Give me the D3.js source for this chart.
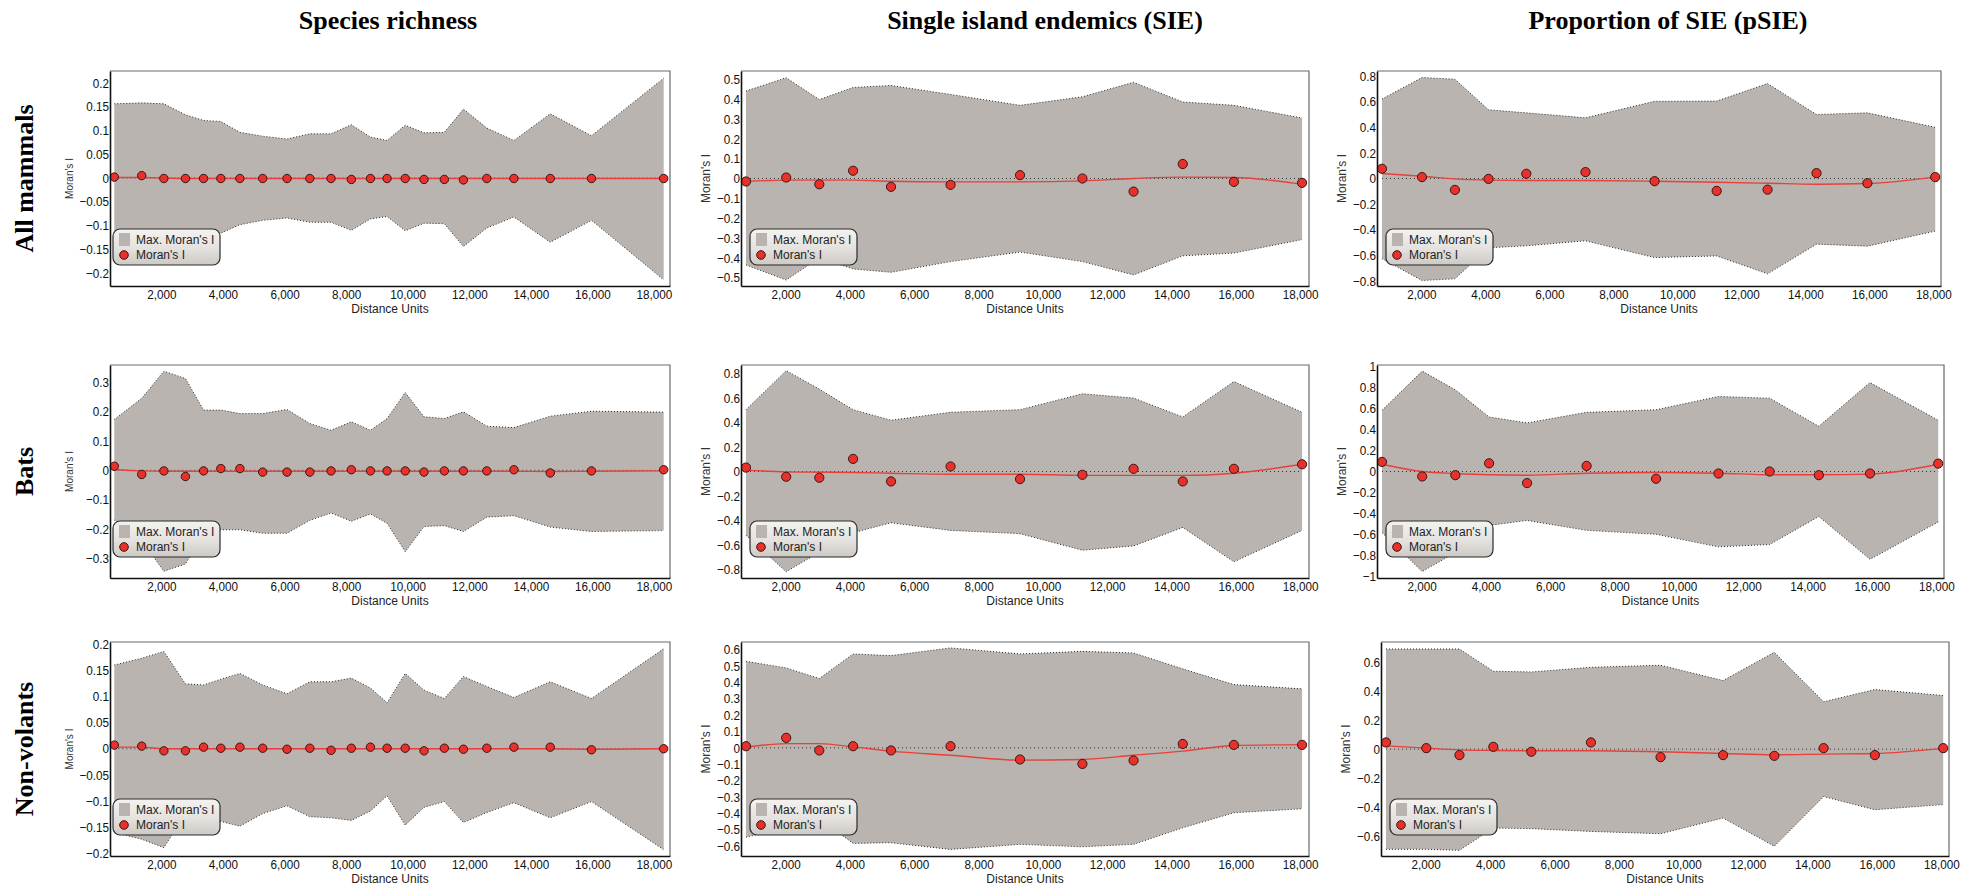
<!DOCTYPE html>
<html>
<head>
<meta charset="utf-8">
<script src="https://cdn.jsdelivr.net/npm/d3@7"></script>
<style>
  body { margin: 0; background: #fff; }
  text { font-family: "Liberation Sans", Arial, sans-serif; }
</style>
</head>
<body>
<svg id="fig" width="1977" height="890"></svg>
<script>
// ---- Distance classes (Distance Units) ----
const distRich = [470, 1360, 2080, 2780, 3370, 3930, 4550, 5290, 6080, 6820, 7510, 8170, 8790, 9330, 9920, 10530, 11190, 11810, 12570, 13450, 14630, 15970, 18315];
const distSIE  = [770, 2020, 3050, 4100, 5280, 7130, 9290, 11230, 12820, 14350, 15940, 18060];

// ---- Tick labels ----
const xTicks = [2000, 4000, 6000, 8000, 10000, 12000, 14000, 16000, 18000];
const yTicksRichAll = [-0.2, -0.15, -0.1, -0.05, 0, 0.05, 0.1, 0.15, 0.2];
const yTicksRichBats = [-0.3, -0.2, -0.1, 0, 0.1, 0.2, 0.3];
const yTicksSIEAll = [-0.5, -0.4, -0.3, -0.2, -0.1, 0, 0.1, 0.2, 0.3, 0.4, 0.5];
const yTicksSIENon = [-0.6, -0.5, -0.4, -0.3, -0.2, -0.1, 0, 0.1, 0.2, 0.3, 0.4, 0.5, 0.6];
const yTicksPoint8 = [-0.8, -0.6, -0.4, -0.2, 0, 0.2, 0.4, 0.6, 0.8];
const yTicksUnit = [-1, -0.8, -0.6, -0.4, -0.2, 0, 0.2, 0.4, 0.6, 0.8, 1];
const yTicksPoint6 = [-0.6, -0.4, -0.2, 0, 0.2, 0.4, 0.6];

// ---- All mammals: species richness ----
const richAllI     = [0.002, 0.005, -0.001, -0.001, -0.001, -0.001, -0.001, -0.001, -0.001, -0.001, -0.001, -0.003, -0.001, -0.001, -0.001, -0.003, -0.003, -0.004, -0.001, -0.001, -0.001, -0.001, -0.001];
const richAllTrend = [0.001, 0.001, 0, -0.001, -0.001, -0.001, -0.001, -0.001, -0.001, -0.001, -0.001, -0.001, -0.001, -0.001, -0.001, -0.001, -0.001, -0.001, -0.001, -0.001, -0.001, -0.001, -0.001];
const richAllMax   = [0.156, 0.158, 0.156, 0.133, 0.121, 0.119, 0.096, 0.088, 0.082, 0.093, 0.093, 0.112, 0.086, 0.079, 0.111, 0.095, 0.096, 0.145, 0.105, 0.079, 0.135, 0.089, 0.21];
const richAllMin   = [-0.156, -0.158, -0.156, -0.133, -0.121, -0.116, -0.098, -0.089, -0.084, -0.093, -0.093, -0.11, -0.086, -0.081, -0.111, -0.095, -0.096, -0.144, -0.105, -0.082, -0.135, -0.089, -0.214];

// ---- All mammals: SIE ----
const sieAllI     = [-0.015, 0.005, -0.029, 0.039, -0.042, -0.032, 0.017, 0.0, -0.066, 0.073, -0.017, -0.022];
const sieAllTrend = [-0.015, -0.008, -0.008, -0.008, -0.014, -0.017, -0.017, -0.012, 0.0, 0.007, 0.005, -0.029];
const sieAllMax   = [0.441, 0.508, 0.398, 0.459, 0.469, 0.424, 0.369, 0.412, 0.485, 0.386, 0.369, 0.305];
const sieAllMin   = [-0.436, -0.512, -0.40, -0.456, -0.473, -0.419, -0.371, -0.419, -0.486, -0.39, -0.376, -0.308];

// ---- All mammals: pSIE ----
const psieAllI     = [0.076, 0.011, -0.089, -0.003, 0.037, 0.05, -0.021, -0.097, -0.087, 0.042, -0.037, 0.011];
const psieAllTrend = [0.039, 0.018, -0.003, -0.013, -0.016, -0.016, -0.021, -0.029, -0.037, -0.045, -0.039, 0.011];
const psieAllMax   = [0.621, 0.789, 0.776, 0.537, 0.513, 0.474, 0.603, 0.605, 0.742, 0.5, 0.513, 0.4];
const psieAllMin   = [-0.626, -0.797, -0.784, -0.542, -0.526, -0.487, -0.618, -0.605, -0.745, -0.513, -0.529, -0.411];

// ---- Bats: species richness ----
const richBatsI     = [0.014, -0.014, -0.002, -0.021, -0.002, 0.006, 0.006, -0.006, -0.006, -0.006, -0.002, 0.002, -0.002, -0.002, -0.002, -0.006, -0.002, -0.002, -0.002, 0.002, -0.009, -0.002, 0.002];
const richBatsTrend = [0.003, -0.002, -0.003, -0.003, -0.003, -0.003, -0.003, -0.003, -0.003, -0.003, -0.003, -0.003, -0.003, -0.003, -0.003, -0.003, -0.003, -0.003, -0.003, -0.003, -0.004, -0.003, -0.002];
const richBatsMax   = [0.174, 0.246, 0.339, 0.314, 0.206, 0.206, 0.194, 0.194, 0.208, 0.16, 0.137, 0.166, 0.137, 0.177, 0.266, 0.183, 0.177, 0.2, 0.151, 0.146, 0.185, 0.202, 0.199];
const richBatsMin   = [-0.17, -0.24, -0.345, -0.32, -0.217, -0.203, -0.203, -0.215, -0.215, -0.171, -0.146, -0.174, -0.149, -0.181, -0.278, -0.192, -0.189, -0.209, -0.16, -0.155, -0.194, -0.209, -0.206];

// ---- Bats: SIE ----
const sieBatsI     = [0.032, -0.043, -0.051, 0.103, -0.081, 0.041, -0.062, -0.027, 0.022, -0.081, 0.022, 0.059];
const sieBatsTrend = [0.011, -0.003, -0.006, -0.008, -0.014, -0.022, -0.022, -0.032, -0.032, -0.032, -0.014, 0.059];
const sieBatsMax   = [0.505, 0.824, 0.673, 0.505, 0.419, 0.484, 0.505, 0.635, 0.6, 0.446, 0.735, 0.484];
const sieBatsMin   = [-0.52, -0.819, -0.66, -0.5, -0.419, -0.481, -0.508, -0.643, -0.608, -0.457, -0.738, -0.481];

// ---- Bats: pSIE ----
const psieBatsI     = [0.091, -0.047, -0.035, 0.078, -0.11, 0.053, -0.069, -0.019, 0.0, -0.035, -0.019, 0.075];
const psieBatsTrend = [0.069, 0.0, -0.019, -0.031, -0.035, -0.016, -0.009, -0.016, -0.031, -0.031, -0.025, 0.069];
const psieBatsMax   = [0.581, 0.954, 0.776, 0.518, 0.462, 0.562, 0.587, 0.713, 0.697, 0.43, 0.845, 0.487];
const psieBatsMin   = [-0.58, -0.951, -0.77, -0.512, -0.465, -0.559, -0.597, -0.716, -0.694, -0.427, -0.835, -0.48];

// ---- Non-volants: species richness ----
const richNonI     = [0.007, 0.005, -0.004, -0.004, 0.003, 0.001, 0.003, 0.001, -0.001, 0.001, -0.003, 0.001, 0.003, 0.001, 0.001, -0.004, 0.001, -0.001, 0.001, 0.003, 0.003, -0.002, 0.0];
const richNonTrend = [0.003, 0.003, 0.0, 0.0, 0.0, 0.0, 0.0, 0.0, 0.0, 0.0, 0.0, 0.0, 0.0, 0.0, 0.0, 0.0, 0.0, 0.0, 0.0, 0.0, 0.0, -0.001, 0.0];
const richNonMax   = [0.16, 0.173, 0.186, 0.124, 0.122, 0.133, 0.144, 0.122, 0.105, 0.128, 0.128, 0.135, 0.116, 0.088, 0.144, 0.112, 0.096, 0.138, 0.119, 0.098, 0.128, 0.096, 0.191];
const richNonMin   = [-0.16, -0.173, -0.189, -0.124, -0.122, -0.139, -0.148, -0.124, -0.109, -0.13, -0.132, -0.137, -0.119, -0.09, -0.146, -0.112, -0.101, -0.141, -0.122, -0.103, -0.132, -0.101, -0.193];

// ---- Non-volants: SIE ----
const sieNonI     = [0.01, 0.061, -0.016, 0.01, -0.016, 0.01, -0.071, -0.098, -0.077, 0.024, 0.018, 0.018];
const sieNonTrend = [0.004, 0.026, 0.026, 0.006, -0.02, -0.045, -0.075, -0.071, -0.045, -0.02, 0.014, 0.02];
const sieNonMax   = [0.528, 0.488, 0.423, 0.573, 0.563, 0.61, 0.573, 0.589, 0.579, 0.482, 0.386, 0.36];
const sieNonMin   = [-0.545, -0.49, -0.43, -0.583, -0.579, -0.62, -0.589, -0.604, -0.589, -0.488, -0.396, -0.372];

// ---- Non-volants: pSIE ----
const psieNonI     = [0.046, 0.007, -0.041, 0.016, -0.018, 0.046, -0.055, -0.041, -0.046, 0.007, -0.041, 0.007];
const psieNonTrend = [0.023, 0.007, -0.005, -0.009, -0.011, -0.011, -0.018, -0.03, -0.039, -0.034, -0.03, 0.005];
const psieNonMax   = [0.689, 0.689, 0.689, 0.536, 0.531, 0.563, 0.577, 0.472, 0.666, 0.326, 0.41, 0.369];
const psieNonMin   = [-0.689, -0.689, -0.696, -0.543, -0.547, -0.566, -0.582, -0.474, -0.668, -0.326, -0.417, -0.381];

// ---- Headings ----
const columnTitles = ["Species richness", "Single island endemics (SIE)", "Proportion of SIE (pSIE)"];
const rowTitles = ["All mammals", "Bats", "Non-volants"];
const legendLabels = ["Max. Moran's I", "Moran's I"];

// ---- Page layout ----
const cols = [
  { left: 110, right: 670, titleX: 388, xDomain: [330, 18520], labelOff: 37, labelSize: 10 },
  { left: 741, right: 1309, titleX: 1045, xDomain: [615, 18275], labelOff: 31, labelSize: 12 },
  { left: 1377, right: 1941, titleX: 1668, xDomain: [615, 18240], labelOff: 31, labelSize: 12 }
];
const rows = [
  { top: 71, bottom: 286 },
  { top: 365, bottom: 578 },
  { top: 642, bottom: 856 }
];

const panels = [
  { row: 0, col: 0, dist: distRich, I: richAllI, trend: richAllTrend, hi: richAllMax, lo: richAllMin, yDomain: [-0.227, 0.225], yTicks: yTicksRichAll },
  { row: 0, col: 1, dist: distSIE, I: sieAllI, trend: sieAllTrend, hi: sieAllMax, lo: sieAllMin, yDomain: [-0.542, 0.542], yTicks: yTicksSIEAll },
  { row: 0, col: 2, dist: distSIE, I: psieAllI, trend: psieAllTrend, hi: psieAllMax, lo: psieAllMin, yDomain: [-0.84, 0.84], yTicks: yTicksPoint8 },
  { row: 1, col: 0, dist: distRich, I: richBatsI, trend: richBatsTrend, hi: richBatsMax, lo: richBatsMin, yDomain: [-0.368, 0.36], yTicks: yTicksRichBats },
  { row: 1, col: 1, dist: distSIE, I: sieBatsI, trend: sieBatsTrend, hi: sieBatsMax, lo: sieBatsMin, yDomain: [-0.87, 0.87], yTicks: yTicksPoint8 },
  { row: 1, col: 2, dist: distSIE, I: psieBatsI, trend: psieBatsTrend, hi: psieBatsMax, lo: psieBatsMin, yDomain: [-1.012, 1.012], yTicks: yTicksUnit, rightShift: 3 },
  { row: 2, col: 0, dist: distRich, I: richNonI, trend: richNonTrend, hi: richNonMax, lo: richNonMin, yDomain: [-0.205, 0.204], yTicks: yTicksRichAll },
  { row: 2, col: 1, dist: distSIE, I: sieNonI, trend: sieNonTrend, hi: sieNonMax, lo: sieNonMin, yDomain: [-0.66, 0.646], yTicks: yTicksSIENon },
  { row: 2, col: 2, dist: distSIE, I: psieNonI, trend: psieNonTrend, hi: psieNonMax, lo: psieNonMin, yDomain: [-0.735, 0.737], yTicks: yTicksPoint6, leftShift: 4, rightShift: 8 }
];

const envFill = "#b9b4af";
const dotRed = "#e8312b";
const lineRed = "#e8403a";

const svg = d3.select("#fig");
svg.append("rect").attr("width", 1977).attr("height", 890).attr("fill", "#fff");

const defs = svg.append("defs");
const grad = defs.append("linearGradient").attr("id", "legendFill")
  .attr("x1", 0).attr("y1", 0).attr("x2", 0).attr("y2", 1);
grad.append("stop").attr("offset", "0%").attr("stop-color", "#f4f3f1");
grad.append("stop").attr("offset", "55%").attr("stop-color", "#e4e1de");
grad.append("stop").attr("offset", "100%").attr("stop-color", "#cdc9c4");

// Column titles
svg.selectAll("text.coltitle").data(columnTitles).join("text")
  .attr("class", "coltitle")
  .attr("x", (d, i) => cols[i].titleX).attr("y", 29)
  .attr("text-anchor", "middle")
  .style("font-family", "'Liberation Serif', 'Times New Roman', serif")
  .style("font-weight", "bold").style("font-size", "26px")
  .text(d => d);

// Row titles
svg.selectAll("text.rowtitle").data(rowTitles).join("text")
  .attr("class", "rowtitle")
  .attr("transform", (d, i) => `translate(33,${(rows[i].top + rows[i].bottom) / 2}) rotate(-90)`)
  .attr("text-anchor", "middle")
  .style("font-family", "'Liberation Serif', 'Times New Roman', serif")
  .style("font-weight", "bold").style("font-size", "26px")
  .text(d => d);

const fmtX = d3.format(",");
const fmtY = d => d3.format("~g")(+d.toFixed(3));

panels.forEach(p => {
  const c = cols[p.col], r = rows[p.row];
  const left = c.left + (p.leftShift || 0);
  const right = c.right + (p.rightShift || 0);
  const x = d3.scaleLinear().domain(c.xDomain).range([left, right]);
  const y = d3.scaleLinear().domain(p.yDomain).range([r.bottom, r.top]);
  const g = svg.append("g");

  const env = p.dist.map((d, i) => ({ d, hi: p.hi[i], lo: p.lo[i] }));

  // Max. Moran's I envelope
  g.append("path").datum(env)
    .attr("d", d3.area().x(d => x(d.d)).y0(d => y(d.lo)).y1(d => y(d.hi)))
    .attr("fill", envFill);
  ["hi", "lo"].forEach(k => {
    g.append("path").datum(env)
      .attr("d", d3.line().x(d => x(d.d)).y(d => y(d[k])))
      .attr("fill", "none").attr("stroke", "#2a2a2a")
      .attr("stroke-width", 1).attr("stroke-dasharray", "1,2");
  });

  // expected value (zero) reference
  g.append("line")
    .attr("x1", x(p.dist[0])).attr("x2", x(p.dist[p.dist.length - 1]))
    .attr("y1", y(0)).attr("y2", y(0))
    .attr("stroke", "#333").attr("stroke-width", 1).attr("stroke-dasharray", "1,3");

  // fitted trend
  g.append("path").datum(p.trend.map((v, i) => [p.dist[i], v]))
    .attr("d", d3.line().x(d => x(d[0])).y(d => y(d[1])).curve(d3.curveMonotoneX))
    .attr("fill", "none").attr("stroke", lineRed).attr("stroke-width", 1.4);

  // Moran's I points
  g.selectAll("circle.pt").data(p.I).join("circle")
    .attr("class", "pt")
    .attr("cx", (v, i) => x(p.dist[i])).attr("cy", v => y(v))
    .attr("r", p.col === 0 ? 4.2 : 4.6)
    .attr("fill", dotRed).attr("stroke", "#3b1414").attr("stroke-width", 1);

  // plot frame (top / right)
  g.append("path")
    .attr("d", `M${left},${r.top}H${right}V${r.bottom}`)
    .attr("fill", "none").attr("stroke", "#6a6a6a").attr("stroke-width", 1.2);

  // axes
  const ax = g.append("g").attr("transform", `translate(0,${r.bottom})`)
    .call(d3.axisBottom(x).tickValues(xTicks).tickFormat(fmtX).tickSize(0).tickPadding(4));
  const ay = g.append("g").attr("transform", `translate(${left},0)`)
    .call(d3.axisLeft(y).tickValues(p.yTicks).tickFormat(fmtY).tickSize(0).tickPadding(1));
  [ax, ay].forEach(a => {
    a.select(".domain").attr("stroke", "#111").attr("stroke-width", 1.6);
    a.selectAll("text").attr("fill", "#111")
      .style("font-size", "13px").style("font-family", "'Liberation Sans', Arial, sans-serif")
      .attr("transform", "scale(0.9,1)");
  });

  // axis titles
  g.append("text")
    .attr("x", (left + right) / 2).attr("y", r.bottom + 27)
    .attr("text-anchor", "middle").attr("fill", "#222")
    .style("font-size", "12px").text("Distance Units");
  g.append("text")
    .attr("transform", `translate(${left - c.labelOff},${(r.top + r.bottom) / 2}) rotate(-90)`)
    .attr("text-anchor", "middle").attr("fill", "#333")
    .style("font-size", c.labelSize + "px").text("Moran's I");

  // legend
  const lx = left + (p.col === 0 ? 3 : 9), ly = r.bottom - 57;
  const lg = g.append("g").attr("transform", `translate(${lx},${ly})`);
  lg.append("rect").attr("width", 107).attr("height", 36).attr("rx", 7)
    .attr("fill", "url(#legendFill)").attr("stroke", "#2b2b2b").attr("stroke-width", 1.2);
  lg.append("rect").attr("x", 6).attr("y", 4).attr("width", 11).attr("height", 13)
    .attr("fill", envFill);
  lg.append("circle").attr("cx", 11).attr("cy", 26).attr("r", 4.3)
    .attr("fill", dotRed).attr("stroke", "#3b1414").attr("stroke-width", 1);
  lg.selectAll("text").data(legendLabels).join("text")
    .attr("x", 23).attr("y", (d, i) => 15 + i * 15)
    .attr("fill", "#222").style("font-size", "12px")
    .text(d => d);
});
</script>
</body>
</html>
